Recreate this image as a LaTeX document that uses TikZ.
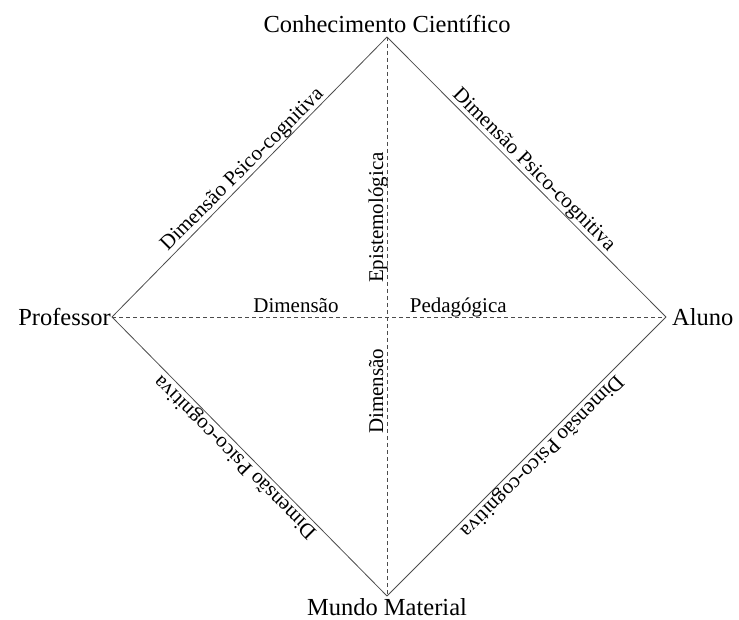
\documentclass[tikz,border=0pt]{standalone}
\usepackage{fontspec}
\setmainfont{Liberation Serif}
\usetikzlibrary{positioning,calc}

\begin{document}
\begin{tikzpicture}[x=1pt, y=1pt,
    vtx/.style={font=\fontsize{24.5}{28}\selectfont, text=black, inner sep=2pt},
    txt/.style={font=\fontsize{21}{25}\selectfont, text=black, inner sep=2pt},
    sidetxt/.style={txt, inner sep=0pt, anchor=south},
    side/.style={line width=0.8pt, black!70},
    axisline/.style={line width=0.7pt, black!70, dash pattern=on 4pt off 3pt}]
  \useasboundingbox (0,0) rectangle (739,619);

  % vertices of the diamond
  \coordinate (top) at (387,582);
  \coordinate (left) at (112,302);
  \coordinate (right) at (666,302);
  \coordinate (bottom) at (387,23);

  \node[vtx, above=2pt of top] (conhecimento) {Conhecimento Científico};
  \node[vtx, left=-1pt of left] (professor) {Professor};
  \node[vtx, right=4pt of right] (aluno) {Aluno};
  \node[vtx, below=0pt of bottom] (mundo) {Mundo Material};

  % dashed axes
  \draw[axisline] (left) -- (right)
    node[txt, pos=0.332, anchor=base, yshift=4pt] (dimped) {Dimensão}
    node[txt, pos=0.625, anchor=base, yshift=4pt] (pedagogica) {Pedagógica};
  \draw[axisline] (top) -- (bottom);
  \node[txt, rotate=90, anchor=base] (episte) at ($(top)!0.323!(bottom)+(-4,0)$) {Epistemológica};
  \node[txt, rotate=90, anchor=base] (dimepi) at ($(top)!0.634!(bottom)+(-4,0)$) {Dimensão};

  % sides
  \draw[side] (left) -- (top) node[sidetxt, midway, rotate=45] (psicoA) {Dimensão Psico-cognitiva};
  \draw[side] (top) -- (right) node[sidetxt, midway, rotate=-45] (psicoB) {Dimensão Psico-cognitiva};
  \draw[side] (left) -- (bottom) node[sidetxt, pos=0.475, rotate=135] (psicoC) {Dimensão Psico-cognitiva};
  \draw[side] (bottom) -- (right) node[sidetxt, pos=0.528, rotate=225] (psicoD) {Dimensão Psico-cognitiva};
\end{tikzpicture}
\end{document}
